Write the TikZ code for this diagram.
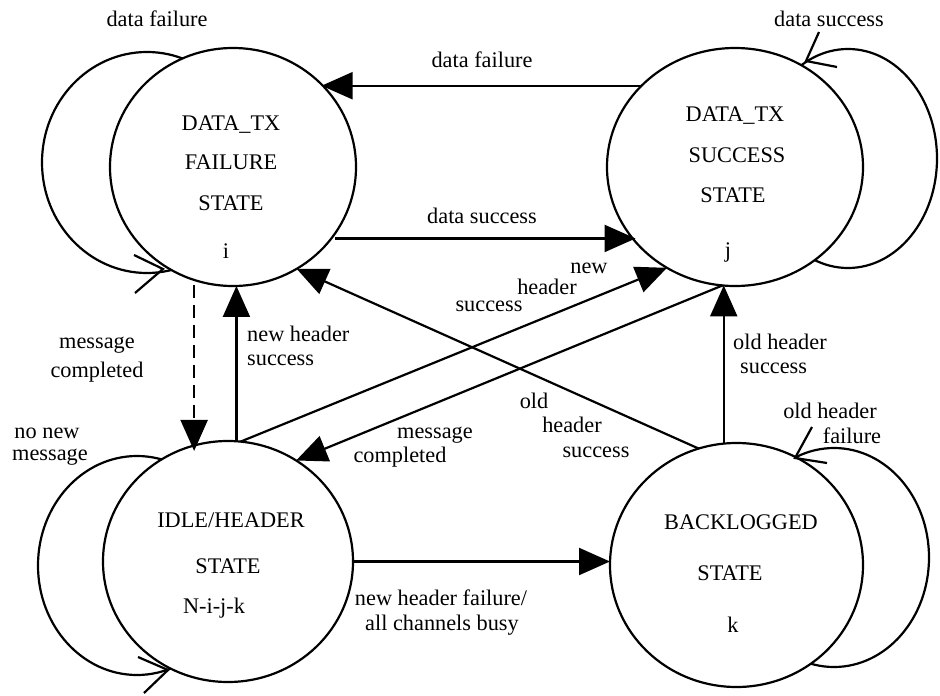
\documentclass[tikz,border=0pt]{standalone}
\usepackage{fontspec}
\setmainfont{Liberation Serif}
\usetikzlibrary{arrows.meta,shapes.geometric}
\begin{document}
\begin{tikzpicture}[x=1pt,y=-1pt,
  state/.style={ellipse,draw,line width=2.2pt,fill=white,inner sep=0pt,outer sep=0pt},
  txt/.style={anchor=base,inner sep=0pt,font=\fontsize{22.3}{26}\selectfont},
  txtw/.style={txt,anchor=base west},
  edge/.style={line width=2.2pt,-{Triangle[length=31pt,width=27pt]}},
  loopline/.style={line width=2.2pt},
  dashedge/.style={edge,dash pattern=on 13pt off 7pt},
  ]
\useasboundingbox (0,0) rectangle (940,696);

% self-loops (drawn first, states cover inner part)
\draw[loopline] (147,162.5) ellipse [x radius=105, y radius=110.5];
\draw[loopline] (848,158.5) ellipse [x radius=89, y radius=109.5];
\draw[loopline] (137,565.5) ellipse [x radius=99, y radius=109.5];
\draw[loopline] (834,557.5) ellipse [x radius=95, y radius=109.5];

% states
\node[state,minimum width=246pt,minimum height=238pt] (F) at (233,167) {};
\node[state,minimum width=256pt,minimum height=238pt] (S) at (735,167) {};
\node[state,minimum width=250pt,minimum height=241pt] (I) at (228,561.5) {};
\node[state,minimum width=253pt,minimum height=244pt] (B) at (736.5,565) {};

% edges
\draw[edge] (S.139.4) -- (S.139.4 -| F.43.3);
\draw[edge,shorten <=4pt] (F.-36.3) -- (F.-36.3 -| S.-143);
\draw[dashedge,shorten <=5pt,shorten >=-5pt] (F.-109.9) -- (F.-109.9 |- I.107.3);
\draw[edge] (I.86.7) -- (I.86.7 |- F.-89);
\draw[edge] (I.84.3) -- (S.-124.8);
\draw[edge] (S.-96.8) -- (I.56.6);
\draw[edge] (B.108.1) -- (F.-58.1);
\draw[edge] (B.96.8) -- (B.96.8 |- S.-96.4);
\draw[edge] (I.east) -- (I.east -| B.west);

% loop arrowheads (open)
\coordinate (t1) at (163,269);
\coordinate (t2) at (806,61);
\coordinate (t3) at (168,670);
\coordinate (t4) at (795,458);
\draw[loopline] (t1) ++(-29,-14) -- (t1) -- ++(-28,24);
\draw[loopline] (t2) ++(31,6) -- (t2) -- ++(13,-29);
\draw[loopline] (t3) ++(-30,-13) -- (t3) -- ++(-24,23);
\draw[loopline] (t4) ++(32,5) -- (t4) -- ++(17,-31);

% state texts
\node[txt] (f1) at (231,130) {DATA\_TX};
\node[txt] (f2) at (231,169) {FAILURE};
\node[txt] (f3) at (231,210) {STATE};
\node[txt] (f4) at (226,258) {i};
\node[txt] (s1) at (735,121) {DATA\_TX};
\node[txt] (s2) at (737,162) {SUCCESS};
\node[txt] (s3) at (733,202) {STATE};
\node[txt] (s4) at (728,257) {j};
\node[txt] (i1) at (231,527) {IDLE/HEADER};
\node[txt] (i2) at (228,573) {STATE};
\node[txt] (i3) at (214,613) {N-i-j-k};
\node[txt] (b1) at (741,529) {BACKLOGGED};
\node[txt] (b2) at (730,580) {STATE};
\node[txt] (b3) at (733,632) {k};

% edge labels
\node[txt] (l1) at (157,27) {data failure};
\node[txt] (l2) at (829,27) {data success};
\node[txt] (l3) at (482,67) {data failure};
\node[txt] (l4) at (482,223) {data success};
\node[txt] (l5) at (97,348) {message};
\node[txt] (l6) at (97,377) {completed};
\node[txtw] (l7) at (247,341) {new header};
\node[txtw] (l8) at (247,365) {success};
\node[txt] (l9) at (589,273) {new};
\node[txt] (l10) at (547,294) {header};
\node[txt] (l11) at (489,311) {success};
\node[txt] (l12) at (435,438) {message};
\node[txt] (l13) at (400,462) {completed};
\node[txt] (l14) at (534,408) {old};
\node[txt] (l15) at (572,432) {header};
\node[txt] (l16) at (596,457) {success};
\node[txtw] (l17) at (733,349) {old header};
\node[txtw] (l18) at (740,373) {success};
\node[txt] (l19) at (441,605) {new header failure/};
\node[txt] (l20) at (442,630) {all channels busy};
\node[txt] (l21) at (47,438) {no new};
\node[txt] (l22) at (50,460) {message};
\node[txt] (l23) at (830,418) {old header};
\node[txt] (l24) at (852,443) {failure};
\end{tikzpicture}
\end{document}
